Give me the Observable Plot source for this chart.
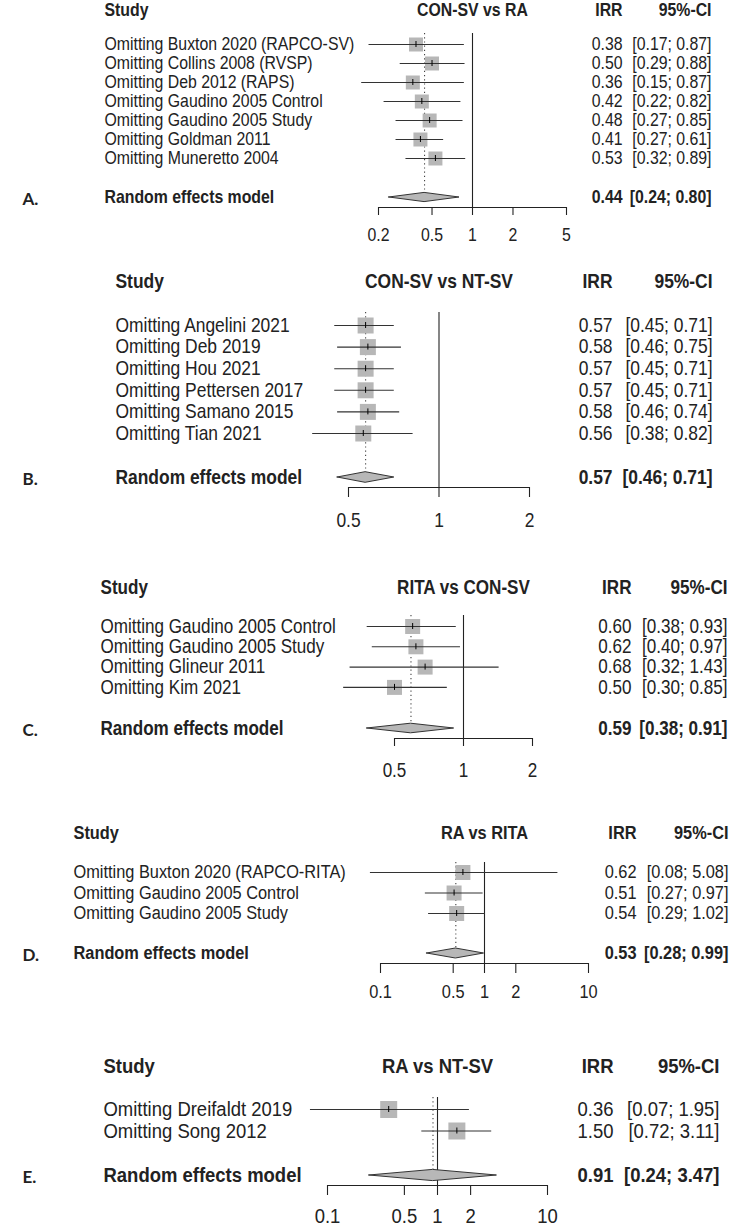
<!DOCTYPE html>
<html><head><meta charset="utf-8">
<script src="https://cdn.jsdelivr.net/npm/d3@7"></script>
<script src="https://cdn.jsdelivr.net/npm/@observablehq/plot@0.6"></script>
<style>
body{margin:0;background:#fff;}
#chart{position:relative;width:732px;height:1227px;overflow:hidden;background:#fff;}
#chart svg{display:block;overflow:hidden;}
</style></head><body><div id="chart"></div>
<script>
// ---------- data ----------
const panelLetters = ["A.", "B.", "C.", "D.", "E."];
const comparisons = ["CON-SV vs RA", "CON-SV vs NT-SV", "RITA vs CON-SV", "RA vs RITA", "RA vs NT-SV"];

const studiesA = ["Omitting Buxton 2020 (RAPCO-SV)", "Omitting Collins 2008 (RVSP)", "Omitting Deb 2012 (RAPS)", "Omitting Gaudino 2005 Control", "Omitting Gaudino 2005 Study", "Omitting Goldman 2011", "Omitting Muneretto 2004"];
const irrA = [0.38, 0.50, 0.36, 0.42, 0.48, 0.41, 0.53];
const lowerA = [0.17, 0.29, 0.15, 0.22, 0.27, 0.27, 0.32];
const upperA = [0.87, 0.88, 0.87, 0.82, 0.85, 0.61, 0.89];
const pooledA = [0.44, 0.24, 0.80];
const ticksA = [0.2, 0.5, 1, 2, 5];

const studiesB = ["Omitting Angelini 2021", "Omitting Deb 2019", "Omitting Hou 2021", "Omitting Pettersen 2017", "Omitting Samano 2015", "Omitting Tian 2021"];
const irrB = [0.57, 0.58, 0.57, 0.57, 0.58, 0.56];
const lowerB = [0.45, 0.46, 0.45, 0.45, 0.46, 0.38];
const upperB = [0.71, 0.75, 0.71, 0.71, 0.74, 0.82];
const pooledB = [0.57, 0.46, 0.71];
const ticksB = [0.5, 1, 2];

const studiesC = ["Omitting Gaudino 2005 Control", "Omitting Gaudino 2005 Study", "Omitting Glineur 2011", "Omitting Kim 2021"];
const irrC = [0.60, 0.62, 0.68, 0.50];
const lowerC = [0.38, 0.40, 0.32, 0.30];
const upperC = [0.93, 0.97, 1.43, 0.85];
const pooledC = [0.59, 0.38, 0.91];
const ticksC = [0.5, 1, 2];

const studiesD = ["Omitting Buxton 2020 (RAPCO-RITA)", "Omitting Gaudino 2005 Control", "Omitting Gaudino 2005 Study"];
const irrD = [0.62, 0.51, 0.54];
const lowerD = [0.08, 0.27, 0.29];
const upperD = [5.08, 0.97, 1.02];
const pooledD = [0.53, 0.28, 0.99];
const ticksD = [0.1, 0.5, 1, 2, 10];

const studiesE = ["Omitting Dreifaldt 2019", "Omitting Song 2012"];
const irrE = [0.36, 1.50];
const lowerE = [0.07, 0.72];
const upperE = [1.95, 3.11];
const pooledE = [0.91, 0.24, 3.47];
const ticksE = [0.1, 0.5, 1, 2, 10];

const modelLabel = "Random effects model";
const headers = ["Study", "IRR", "95%-CI"];

// ---------- layout (pixels in page coordinates) ----------
const layout = [
  {top: 0,    height: 258, first: 44,   step: 19,   header: 10,   re: 197,  axis: 207,  tickLen: 8,  tickLabel: 235,  refTop: 33,   xRange: [378, 566], labelX: 104, irrX: 622, ciX: 711, font: 18,   sq: 14, dia: 4.6},
  {top: 258,  height: 302, first: 325,  step: 21.6, header: 281,  re: 477,  axis: 487,  tickLen: 10, tickLabel: 520,  refTop: 312,  xRange: [348, 529], labelX: 115, irrX: 612, ciX: 712, font: 19.8, sq: 16, dia: 5.3},
  {top: 560,  height: 245, first: 626,  step: 20.3, header: 587,  re: 728,  axis: 738,  tickLen: 8,  tickLabel: 770,  refTop: 615,  xRange: [394, 532], labelX: 100, irrX: 631, ciX: 727, font: 19.4, sq: 15, dia: 4.8},
  {top: 805,  height: 230, first: 872,  step: 20.5, header: 833,  re: 953,  axis: 963,  tickLen: 10, tickLabel: 992,  refTop: 862,  xRange: [380, 588], labelX: 73,  irrX: 636, ciX: 728, font: 18.6, sq: 15, dia: 5},
  {top: 1035, height: 192, first: 1109, step: 21.5, header: 1066, re: 1175, axis: 1185, tickLen: 10, tickLabel: 1216, refTop: 1097, xRange: [327, 547], labelX: 103, irrX: 613, ciX: 719, font: 21,   sq: 17, dia: 5.6}
];
const condense = 0.88; // horizontal squeeze of the narrow text face

const panels = [
  {studies: studiesA, irr: irrA, lower: lowerA, upper: upperA, pooled: pooledA, ticks: ticksA},
  {studies: studiesB, irr: irrB, lower: lowerB, upper: upperB, pooled: pooledB, ticks: ticksB},
  {studies: studiesC, irr: irrC, lower: lowerC, upper: upperC, pooled: pooledC, ticks: ticksC},
  {studies: studiesD, irr: irrD, lower: lowerD, upper: upperD, pooled: pooledD, ticks: ticksD},
  {studies: studiesE, irr: irrE, lower: lowerE, upper: upperE, pooled: pooledE, ticks: ticksE}
];

const family = "'Liberation Sans', Arial, Helvetica, sans-serif";
const f2 = d3.format(".2f");
const squareFill = "#b7b7b7";
const ink = "#222";

const root = document.getElementById("chart");

panels.forEach((p, k) => {
  const L = layout[k];
  const toRow = px => (px - L.first) / L.step;
  const rows = p.studies.map((s, i) => ({label: s, est: p.irr[i], lo: p.lower[i], hi: p.upper[i], row: i}));
  const [pe, plo, phi] = p.pooled;
  const reRow = toRow(L.re), axisRow = toRow(L.axis), headRow = toRow(L.header);
  const refTopRow = toRow(L.refTop), tickEnd = toRow(L.axis + L.tickLen), tickLabRow = toRow(L.tickLabel);
  const dh = L.dia / L.step;
  const diamond = [
    {x: plo, y1: reRow, y2: reRow},
    {x: pe, y1: reRow - dh, y2: reRow + dh},
    {x: phi, y1: reRow, y2: reRow}
  ];
  const estTick = 3 / L.step;
  const tk = p.ticks;

  const chart = Plot.plot({
    width: 732,
    height: L.height,
    margin: 0,
    x: {type: "log", domain: [tk[0], tk[tk.length - 1]], range: L.xRange, axis: null},
    y: {type: "linear", domain: [0, 1], range: [L.first - L.top, L.first - L.top + L.step], axis: null},
    style: {fontFamily: family, fontSize: L.font + "px", color: ink, background: "#fff"},
    marks: [
      Plot.ruleX([1], {x: d => d, y1: () => refTopRow, y2: () => axisRow, stroke: ink, strokeWidth: 1.1}),
      Plot.ruleX([pe], {x: d => d, y1: () => refTopRow, y2: () => reRow - dh, stroke: "#444", strokeWidth: 1.1, strokeDasharray: "1.2,3"}),
      Plot.dot(rows, {x: "est", y: "row", symbol: "square", r: L.sq / Math.sqrt(Math.PI), fill: squareFill, stroke: "none"}),
      Plot.ruleY(rows, {y: "row", x1: "lo", x2: "hi", stroke: "#333", strokeWidth: 1.1}),
      Plot.ruleX(rows, {x: "est", y1: d => d.row - estTick, y2: d => d.row + estTick, stroke: "#000", strokeWidth: 1}),
      Plot.areaY(diamond, {x: "x", y1: "y1", y2: "y2", fill: squareFill, stroke: "#333", strokeWidth: 1}),
      Plot.ruleY([axisRow], {y: d => d, x1: () => tk[0], x2: () => tk[tk.length - 1], stroke: ink, strokeWidth: 1.1}),
      Plot.ruleX(tk, {x: d => d, y1: () => axisRow, y2: () => tickEnd, stroke: ink, strokeWidth: 1.1}),
      Plot.text(tk, {x: d => d, y: () => tickLabRow, text: d => String(d), fill: ink}),
      Plot.text([headers[0]], {frameAnchor: "left", dx: L.labelX, y: () => headRow, text: d => d, textAnchor: "start", fontWeight: "bold", fill: ink}),
      Plot.text([comparisons[k]], {x: () => 1, y: () => headRow, text: d => d, fontWeight: "bold", fill: ink}),
      Plot.text([headers[1]], {frameAnchor: "left", dx: L.irrX, y: () => headRow, text: d => d, textAnchor: "end", fontWeight: "bold", fill: ink}),
      Plot.text([headers[2]], {frameAnchor: "left", dx: L.ciX, y: () => headRow, text: d => d, textAnchor: "end", fontWeight: "bold", fill: ink}),
      Plot.text(rows, {frameAnchor: "left", dx: L.labelX, y: "row", text: "label", textAnchor: "start", fill: ink}),
      Plot.text(rows, {frameAnchor: "left", dx: L.irrX, y: "row", text: d => f2(d.est), textAnchor: "end", fill: ink}),
      Plot.text(rows, {frameAnchor: "left", dx: L.ciX, y: "row", text: d => `[${f2(d.lo)}; ${f2(d.hi)}]`, textAnchor: "end", fill: ink}),
      Plot.text([modelLabel], {frameAnchor: "left", dx: L.labelX, y: () => reRow, text: d => d, textAnchor: "start", fontWeight: "bold", fill: ink}),
      Plot.text([pe], {frameAnchor: "left", dx: L.irrX, y: () => reRow, text: d => f2(d), textAnchor: "end", fontWeight: "bold", fill: ink}),
      Plot.text([p.pooled], {frameAnchor: "left", dx: L.ciX, y: () => reRow, text: d => `[${f2(d[1])}; ${f2(d[2])}]`, textAnchor: "end", fontWeight: "bold", fill: ink}),
      Plot.text([panelLetters[k]], {frameAnchor: "left", dx: 22, y: () => reRow + 0.1, text: d => d, textAnchor: "start", fontFamily: "Lato, 'Open Sans', sans-serif", fontWeight: "bold", fontSize: 17, fill: ink, className: "panel-letter"})
    ]
  });
  root.appendChild(chart);
  // narrow the text face horizontally around each text's anchor (the reference uses a condensed sans);
  // the vertical em offset (y attribute) is left untouched
  chart.querySelectorAll("text").forEach(t => {
    if (t.closest(".panel-letter")) return;
    const tr = t.getAttribute("transform") || "";
    const xa = t.getAttribute("x");
    const x = xa !== null && isFinite(+xa) ? +xa : 0;
    if (xa !== null && isFinite(+xa)) t.removeAttribute("x");
    t.setAttribute("transform", `${tr} translate(${x},0) scale(${condense},1)`);
  });
});
</script>
</body></html>
